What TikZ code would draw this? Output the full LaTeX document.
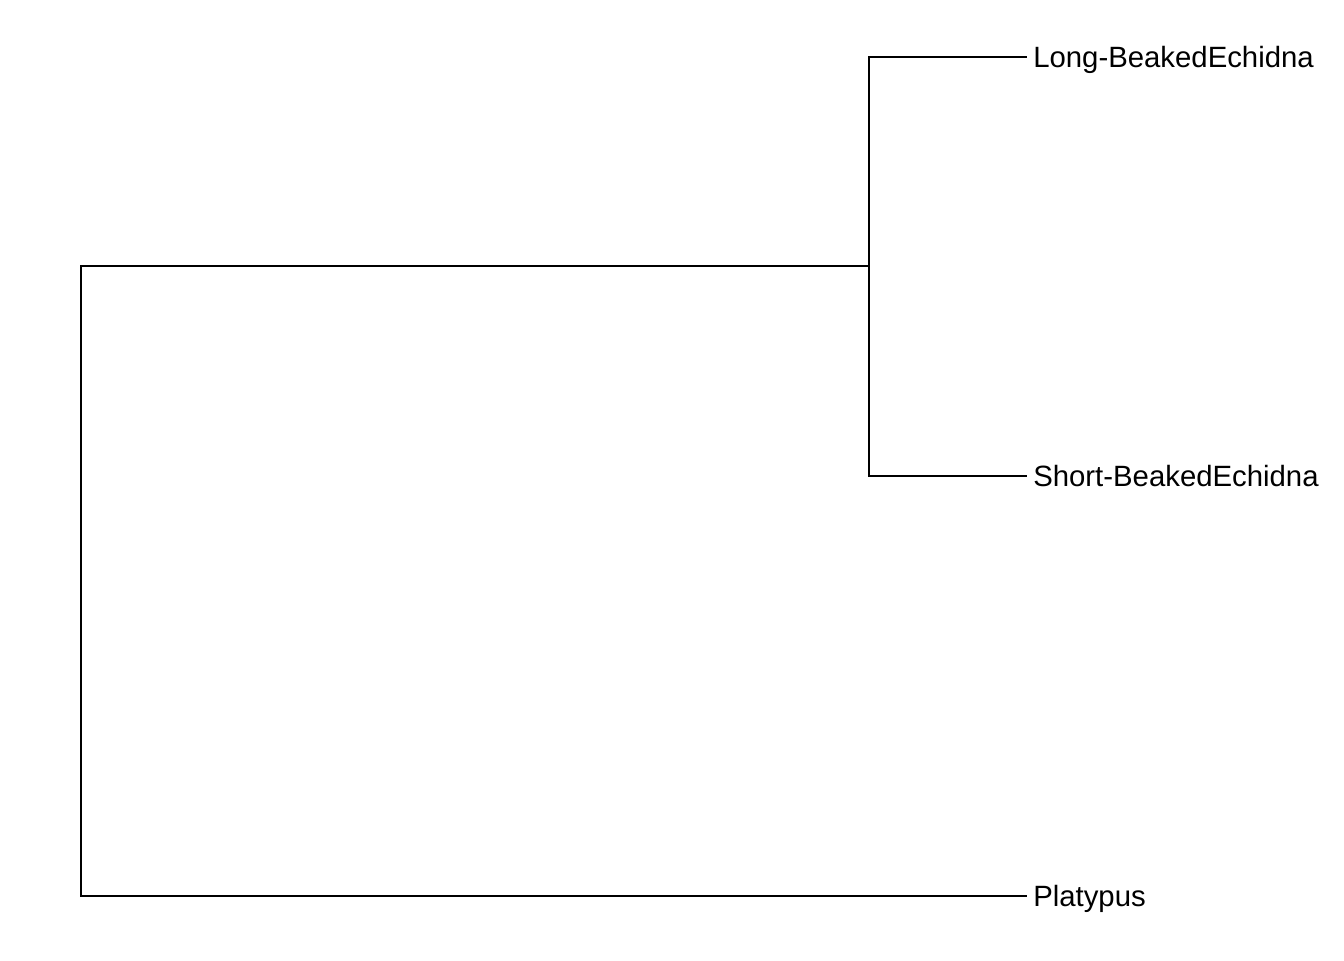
\documentclass[tikz,border=0pt]{standalone}
\usepackage{fontspec}
\setmainfont{Liberation Sans}
\usetikzlibrary{positioning}

\begin{document}
\begin{tikzpicture}[x=0.75pt,y=-0.75pt,font=\fontsize{22}{26}\selectfont]

    % Define node styles
    \tikzstyle{taxon} = [anchor=west, inner sep=4.5pt, text depth=0pt]
    \tikzstyle{branch} = [line width=2.2pt]

    \useasboundingbox (0,0) rectangle (1344,960);

    % Draw nodes
    \coordinate (root) at (81,581);
    \coordinate (echidnas) at (869,266);
    \node [taxon] (long) at (1027,57) {Long-BeakedEchidna};
    \node [taxon] (short) at (1027,476) {Short-BeakedEchidna};
    \node [taxon] (platypus) at (1027,896) {Platypus};

    % Draw branches
    \draw [branch] (root) |- (echidnas);
    \draw [branch] (root) |- (platypus.west);
    \draw [branch] (echidnas) |- (long.west);
    \draw [branch] (echidnas) |- (short.west);

\end{tikzpicture}
\end{document}
